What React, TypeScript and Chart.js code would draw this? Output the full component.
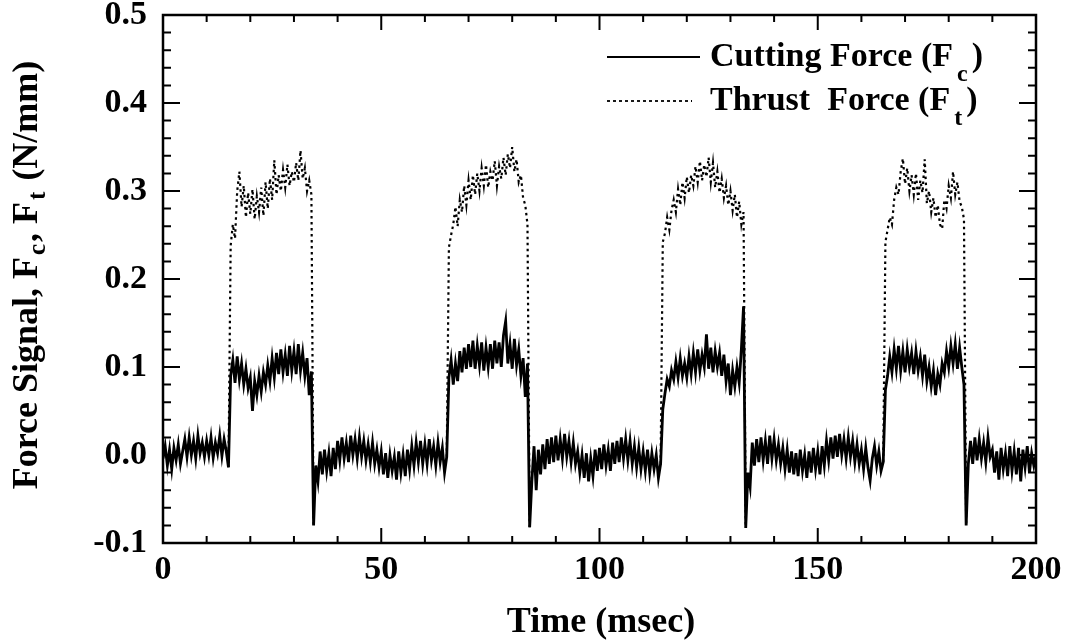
import React, { useEffect, useRef } from "react";
import { Chart, registerables } from "chart.js";

Chart.register(...registerables);

const FONT = '"Liberation Serif", "Times New Roman", serif';

// Sampling interval of the recorded signals (msec)
const sampleStepMs = 0.5;

// Cutting force Fc (N/mm), one value every 0.5 msec from 0 to 200 msec
const cuttingForce = [
  -0.004, 0.010, -0.012, 0.006, -0.016, 0.008, -0.006, 0.012, -0.010, 0.004,
  0.018, -0.002, 0.020, 0.000, 0.016, -0.004, 0.022, 0.002, 0.014, -0.002,
  0.016, 0.000, 0.020, -0.003, 0.014, 0.002, 0.022, -0.001, 0.018, 0.004,
  -0.014, 0.090, 0.108, 0.082, 0.112, 0.086, 0.104, 0.080, 0.098, 0.076,
  0.088, 0.050, 0.084, 0.068, 0.090, 0.072, 0.094, 0.080, 0.102, 0.084,
  0.110, 0.088, 0.116, 0.092, 0.120, 0.094, 0.114, 0.090, 0.124, 0.096,
  0.118, 0.092, 0.126, 0.096, 0.116, 0.090, 0.110, 0.068, 0.095, -0.080,
  -0.012, -0.030, 0.004, -0.022, 0.006, -0.018, 0.002, -0.024, 0.008, -0.016,
  0.016, -0.006, 0.020, -0.004, 0.014, -0.008, 0.022, 0.000, 0.018, -0.004,
  0.020, -0.002, 0.016, -0.006, 0.012, -0.008, 0.014, -0.010, 0.006, -0.014,
  0.004, -0.022, 0.002, -0.026, 0.000, -0.018, -0.002, -0.028, 0.004, -0.020,
  0.000, -0.024, 0.006, -0.016, 0.010, -0.012, 0.014, -0.008, 0.016, -0.010,
  0.012, -0.010, 0.018, -0.006, 0.010, -0.012, 0.014, -0.008, 0.008, -0.020,
  -0.002, 0.088, 0.108, 0.080, 0.104, 0.084, 0.118, 0.094, 0.122, 0.098,
  0.126, 0.100, 0.130, 0.098, 0.124, 0.102, 0.128, 0.096, 0.122, 0.100,
  0.126, 0.098, 0.130, 0.104, 0.128, 0.100, 0.136, 0.152, 0.104, 0.126,
  0.098, 0.132, 0.102, 0.120, 0.090, 0.110, 0.066, 0.104, -0.082, -0.030,
  0.010, -0.040, 0.006, -0.022, 0.012, -0.016, 0.018, -0.010, 0.020, -0.008,
  0.022, -0.006, 0.018, -0.004, 0.024, -0.002, 0.016, -0.008, 0.014, -0.010,
  0.004, -0.020, 0.000, -0.026, 0.002, -0.030, -0.004, -0.024, 0.006, -0.018,
  0.008, -0.016, 0.012, -0.012, 0.006, -0.018, 0.014, -0.010, 0.016, -0.008,
  0.020, -0.004, 0.018, -0.006, 0.016, -0.010, 0.010, -0.014, 0.008, -0.016,
  0.004, -0.018, 0.006, -0.020, 0.002, -0.016, 0.000, -0.026, -0.010, 0.052,
  0.070, 0.086, 0.078, 0.096, 0.086, 0.106, 0.088, 0.110, 0.090, 0.104,
  0.088, 0.112, 0.092, 0.116, 0.094, 0.120, 0.096, 0.114, 0.100, 0.137,
  0.098, 0.122, 0.094, 0.118, 0.100, 0.116, 0.090, 0.114, 0.084, 0.104,
  0.068, 0.096, 0.078, 0.100, 0.082, 0.120, 0.169, -0.083, -0.020, -0.036,
  0.014, -0.012, 0.018, -0.008, 0.020, -0.006, 0.016, -0.010, 0.022, -0.004,
  0.018, -0.006, 0.012, -0.010, 0.008, -0.016, 0.006, -0.020, 0.004, -0.022,
  0.002, -0.024, 0.006, -0.018, 0.000, -0.026, 0.004, -0.020, 0.008, -0.016,
  0.004, -0.022, 0.010, -0.012, 0.016, -0.006, 0.020, -0.004, 0.022, -0.002,
  0.024, 0.000, 0.018, -0.004, 0.020, -0.002, 0.016, -0.008, 0.012, -0.010,
  0.006, -0.016, 0.008, -0.014, -0.029, -0.004, 0.010, -0.012, 0.004, -0.018,
  -0.008, 0.074, 0.090, 0.112, 0.094, 0.120, 0.098, 0.124, 0.096, 0.118,
  0.094, 0.120, 0.100, 0.116, 0.092, 0.118, 0.096, 0.112, 0.090, 0.114,
  0.084, 0.100, 0.078, 0.096, 0.068, 0.092, 0.080, 0.104, 0.094, 0.118,
  0.100, 0.124, 0.104, 0.126, 0.098, 0.122, 0.100, 0.080, -0.080, -0.010,
  0.016, -0.010, 0.020, -0.006, 0.018, -0.004, 0.014, -0.008, 0.020, -0.002,
  0.006, -0.020, 0.004, -0.028, 0.008, -0.016, 0.002, -0.024, 0.010, -0.018,
  0.004, -0.022, 0.008, -0.030, 0.006, -0.014, 0.010, -0.020, 0.002, -0.012, 0.000,
];

// Thrust force Ft (N/mm) during the four cutting passes, 0.5 msec steps
const thrustWindowStartMs = [15, 65, 114, 165];
const thrustWindow1 = [
  -0.014, 0.238, 0.262, 0.246, 0.300, 0.322, 0.282, 0.306, 0.270, 0.298,
  0.274, 0.302, 0.268, 0.294, 0.276, 0.304, 0.272, 0.310, 0.280, 0.314,
  0.290, 0.335, 0.296, 0.318, 0.300, 0.324, 0.304, 0.330, 0.306, 0.322,
  0.310, 0.332, 0.312, 0.346, 0.314, 0.326, 0.300, 0.312, 0.296, -0.080,
];
const thrustWindow2 = [
  -0.002, 0.236, 0.250, 0.262, 0.282, 0.260, 0.290, 0.276, 0.306, 0.284,
  0.312, 0.290, 0.318, 0.296, 0.320, 0.300, 0.326, 0.306, 0.330, 0.304,
  0.322, 0.312, 0.334, 0.306, 0.328, 0.314, 0.338, 0.318, 0.342, 0.326,
  0.350, 0.322, 0.336, 0.310, 0.318, 0.292, 0.284, 0.262, -0.082,
];
const thrustWindow3 = [
  -0.010, 0.242, 0.252, 0.270, 0.256, 0.278, 0.290, 0.276, 0.302, 0.284,
  0.310, 0.292, 0.316, 0.298, 0.318, 0.306, 0.328, 0.310, 0.334, 0.312,
  0.330, 0.316, 0.338, 0.310, 0.332, 0.304, 0.322, 0.298, 0.314, 0.292,
  0.306, 0.284, 0.300, 0.278, 0.296, 0.270, 0.288, 0.262, 0.276, -0.083,
];
const thrustWindow4 = [
  -0.008, 0.242, 0.256, 0.270, 0.262, 0.290, 0.304, 0.296, 0.322, 0.337,
  0.308, 0.326, 0.300, 0.318, 0.296, 0.320, 0.290, 0.312, 0.298, 0.336,
  0.286, 0.300, 0.276, 0.292, 0.270, 0.284, 0.262, 0.257, 0.290, 0.280,
  0.306, 0.292, 0.322, 0.296, 0.310, 0.288, 0.282, 0.268, -0.080,
];
const thrustWindows = [thrustWindow1, thrustWindow2, thrustWindow3, thrustWindow4];

// Axes
const xMin = 0;
const xMax = 200;
const xLabelStep = 50;
const yMin = -0.1;
const yMax = 0.5;
const yLabelStep = 0.1;
const xMajorTicks = [0, 50, 100, 150, 200];
const xMinorTicks = [10, 20, 30, 40, 60, 70, 80, 90, 110, 120, 130, 140, 160, 170, 180, 190];
const yMajorTicks = [-0.1, 0.0, 0.1, 0.2, 0.3, 0.4, 0.5];
const yMinorTicks = [
  -0.08, -0.06, -0.04, -0.02, 0.02, 0.04, 0.06, 0.08, 0.12, 0.14, 0.16, 0.18,
  0.22, 0.24, 0.26, 0.28, 0.32, 0.34, 0.36, 0.38, 0.42, 0.44, 0.46, 0.48,
];

const xTitle = "Time (msec)";
const yTitleRuns = [
  { text: "Force Signal, F", sub: false },
  { text: "c", sub: true },
  { text: ", F", sub: false },
  { text: "t", sub: true },
  { text: " (N/mm)", sub: false },
];
const legendCuttingRuns = [
  { text: "Cutting Force (F", sub: false },
  { text: "c", sub: true },
  { text: ")", sub: false },
];
const legendThrustRuns = [
  { text: "Thrust  Force (F", sub: false },
  { text: "t", sub: true },
  { text: ")", sub: false },
];

type Run = { text: string; sub: boolean };

function runsWidth(ctx: CanvasRenderingContext2D, runs: Run[], mainFont: string, subFont: string, gap: number) {
  let w = 0;
  runs.forEach((r, i) => {
    ctx.font = r.sub ? subFont : mainFont;
    w += ctx.measureText(r.text).width;
    if (r.sub || (i + 1 < runs.length && runs[i + 1].sub)) w += gap;
  });
  return w;
}

function drawRuns(
  ctx: CanvasRenderingContext2D,
  runs: Run[],
  x: number,
  y: number,
  mainFont: string,
  subFont: string,
  subOffset: number,
  gap: number
) {
  let cx = x;
  runs.forEach((r, i) => {
    ctx.font = r.sub ? subFont : mainFont;
    ctx.fillText(r.text, cx, r.sub ? y + subOffset : y);
    cx += ctx.measureText(r.text).width;
    if (r.sub || (i + 1 < runs.length && runs[i + 1].sub)) cx += gap;
  });
}

const framePlugin = {
  id: "frameAndText",
  afterDatasetsDraw(chart: any) {
    const { ctx, chartArea: a, scales } = chart;
    const xs = scales.x;
    const ys = scales.y;
    ctx.save();
    ctx.strokeStyle = "#000";
    ctx.setLineDash([]);
    ctx.lineWidth = 2.5;
    ctx.strokeRect(a.left, a.top, a.right - a.left, a.bottom - a.top);

    ctx.lineWidth = 2;
    ctx.beginPath();
    const xTick = (v: number, len: number) => {
      const px = xs.getPixelForValue(v);
      ctx.moveTo(px, a.bottom);
      ctx.lineTo(px, a.bottom - len);
      ctx.moveTo(px, a.top);
      ctx.lineTo(px, a.top + len);
    };
    const yTick = (v: number, len: number) => {
      const py = ys.getPixelForValue(v);
      ctx.moveTo(a.left, py);
      ctx.lineTo(a.left + len, py);
      ctx.moveTo(a.right, py);
      ctx.lineTo(a.right - len, py);
    };
    xMajorTicks.forEach((v) => xTick(v, 15));
    xMinorTicks.forEach((v) => xTick(v, 7));
    yMajorTicks.forEach((v) => yTick(v, 17));
    yMinorTicks.forEach((v) => yTick(v, 8));
    ctx.stroke();
    ctx.restore();
  },
  afterDraw(chart: any) {
    const { ctx } = chart;
    ctx.save();
    ctx.fillStyle = "#000";
    ctx.strokeStyle = "#000";
    ctx.textBaseline = "alphabetic";
    ctx.textAlign = "left";

    // X title
    ctx.font = `bold 36px ${FONT}`;
    const xtw = ctx.measureText(xTitle).width;
    ctx.fillText(xTitle, 601 - xtw / 2, 632);

    // Y title (rotated, with subscripts)
    const yMain = `bold 36px ${FONT}`;
    const ySub = `bold 25px ${FONT}`;
    const ytw = runsWidth(ctx, yTitleRuns, yMain, ySub, 2);
    ctx.save();
    ctx.translate(37, 275);
    ctx.rotate(-Math.PI / 2);
    drawRuns(ctx, yTitleRuns, -ytw / 2, 0, yMain, ySub, 8, 2);
    ctx.restore();

    // Legend
    const lMain = `bold 34px ${FONT}`;
    const lSub = `bold 24px ${FONT}`;
    ctx.lineWidth = 2;
    ctx.setLineDash([]);
    ctx.beginPath();
    ctx.moveTo(607, 57);
    ctx.lineTo(700, 57);
    ctx.stroke();
    drawRuns(ctx, legendCuttingRuns, 710, 66, lMain, lSub, 15, 4);

    ctx.lineWidth = 1.8;
    ctx.setLineDash([3, 3]);
    ctx.beginPath();
    ctx.moveTo(607, 101);
    ctx.lineTo(692, 101);
    ctx.stroke();
    ctx.setLineDash([]);
    drawRuns(ctx, legendThrustRuns, 710, 110, lMain, lSub, 15, 4);
    ctx.restore();
  },
};

export default function App() {
  const canvasRef = useRef<HTMLCanvasElement>(null);

  useEffect(() => {
    const canvas = canvasRef.current;
    if (!canvas) return;

    const cuttingPoints = cuttingForce.map((y, i) => ({ x: i * sampleStepMs, y }));
    const thrustPoints: { x: number; y: number | null }[] = [];
    thrustWindows.forEach((win, k) => {
      const start = thrustWindowStartMs[k];
      if (k > 0) thrustPoints.push({ x: start - sampleStepMs / 2, y: null });
      win.forEach((y, i) => thrustPoints.push({ x: start + i * sampleStepMs, y }));
    });

    const chart = new Chart(canvas, {
      type: "line",
      data: {
        datasets: [
          {
            label: "Cutting Force (Fc)",
            data: cuttingPoints as any,
            borderColor: "#000",
            borderWidth: 2.8,
            pointRadius: 0,
            tension: 0,
            fill: false,
          },
          {
            label: "Thrust Force (Ft)",
            data: thrustPoints as any,
            borderColor: "#000",
            borderWidth: 2.2,
            borderDash: [2.5, 3.5],
            pointRadius: 0,
            tension: 0,
            fill: false,
            spanGaps: false,
          },
        ],
      },
      options: {
        responsive: false,
        maintainAspectRatio: false,
        animation: false,
        events: [],
        layout: { padding: { left: 0, right: 31, top: 15, bottom: 0 } },
        plugins: {
          legend: { display: false },
          tooltip: { enabled: false },
          title: { display: false },
        },
        scales: {
          x: {
            type: "linear",
            min: xMin,
            max: xMax,
            grid: { display: false, drawTicks: false },
            border: { display: false },
            ticks: {
              stepSize: xLabelStep,
              maxRotation: 0,
              autoSkip: false,
              padding: 7,
              color: "#000",
              font: { family: FONT, size: 34, weight: "bold" },
              callback: (v: any) => String(v),
            },
            afterFit: (s: any) => {
              s.height = 100;
              s.paddingLeft = 0;
              s.paddingRight = 0;
            },
          },
          y: {
            type: "linear",
            min: yMin,
            max: yMax,
            grid: { display: false, drawTicks: false },
            border: { display: false },
            ticks: {
              stepSize: yLabelStep,
              padding: 16,
              color: "#000",
              font: { family: FONT, size: 34, weight: "bold" },
              callback: (v: any) => {
                const n = Math.abs(Number(v)) < 1e-9 ? 0 : Number(v);
                return n.toFixed(1);
              },
            },
            afterFit: (s: any) => {
              s.width = 163;
              s.paddingTop = 0;
              s.paddingBottom = 0;
            },
          },
        },
      } as any,
      plugins: [framePlugin],
    });

    return () => chart.destroy();
  }, []);

  return (
    <div style={{ position: "fixed", left: 0, top: 0, width: 1067, height: 643, background: "#fff" }}>
      <canvas ref={canvasRef} width={1067} height={643} style={{ display: "block" }} />
    </div>
  );
}
